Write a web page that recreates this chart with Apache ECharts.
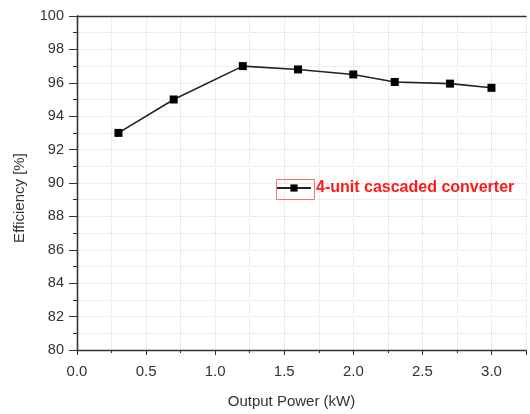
<!DOCTYPE html>
<html><head><meta charset="utf-8">
<script src="https://cdn.jsdelivr.net/npm/echarts@6/dist/echarts.min.js"></script>
<style>html,body{margin:0;padding:0;background:#fff}#c{width:530px;height:414px}</style>
</head><body><div id="c"></div>
<script>
const power = [0.3, 0.7, 1.2, 1.6, 2.0, 2.3, 2.7, 3.0];
const efficiency = [93.0, 95.0, 97.0, 96.8, 96.5, 96.05, 95.95, 95.7];
const seriesName = '4-unit cascaded converter';
const xName = 'Output Power (kW)';
const yName = 'Efficiency [%]';

const chart = echarts.init(document.getElementById('c'));
const font = 'Liberation Sans, Arial, sans-serif';
const grid = {lineStyle: {color: '#dcdcdc', type: 'dotted'}};
chart.setOption({
  animation: false,
  grid: {left: 77, right: 4, top: 16, bottom: 63},
  xAxis: [{
    type: 'value', min: 0, max: 3.25, interval: 0.5,
    name: xName, nameLocation: 'middle', nameGap: 44,
    nameTextStyle: {color: '#333', fontSize: 15, fontFamily: font, padding: [0, 20, 0, 0]},
    axisLine: {show: true, onZero: false, lineStyle: {color: '#333', width: 1.3}},
    axisTick: {show: true, length: 5, lineStyle: {color: '#333'}},
    minorTick: {show: true, splitNumber: 2, length: 3, lineStyle: {color: '#333'}},
    splitLine: Object.assign({show: true}, grid),
    minorSplitLine: Object.assign({show: true}, grid),
    axisLabel: {color: '#333', fontSize: 15, fontFamily: font, margin: 14,
      formatter: v => v.toFixed(1), showMaxLabel: false}
  }, {
    type: 'value', min: 0, max: 3.25, interval: 0.5, position: 'top',
    axisLine: {show: true, lineStyle: {color: '#333', width: 1.3}},
    axisTick: {show: false}, axisLabel: {show: false}, splitLine: {show: false}
  }],
  yAxis: [{
    type: 'value', min: 80, max: 100, interval: 2,
    name: yName, nameLocation: 'middle', nameGap: 50,
    nameTextStyle: {color: '#333', fontSize: 15, fontFamily: font, padding: [0, 30, 0, 0]},
    axisLine: {show: true, onZero: false, lineStyle: {color: '#333', width: 1.3}},
    axisTick: {show: true, length: 8, lineStyle: {color: '#333'}},
    minorTick: {show: true, splitNumber: 2, length: 4, lineStyle: {color: '#333'}},
    splitLine: Object.assign({show: true}, grid),
    minorSplitLine: Object.assign({show: true}, grid),
    axisLabel: {color: '#333', fontSize: 14.5, fontFamily: font, margin: 13}
  }, {
    type: 'value', min: 80, max: 100, interval: 2, position: 'right',
    axisLine: {show: true, lineStyle: {color: '#333', width: 1.3}},
    axisTick: {show: false}, axisLabel: {show: false}, splitLine: {show: false}
  }],
  legend: {
    left: 276, top: 180, padding: 0, itemWidth: 34, itemHeight: 9, itemGap: 4,
    data: [seriesName],
    textStyle: {color: '#ff1a1a', fontWeight: 'bold', fontSize: 16, fontFamily: font}
  },
  graphic: [{
    type: 'rect', left: 274, top: 177, z: 100,
    shape: {width: 38, height: 20},
    style: {fill: 'none', stroke: '#ff7070', lineWidth: 1}
  }],
  series: [{
    name: seriesName, type: 'line',
    data: power.map((p, i) => [p, efficiency[i]]),
    symbol: 'rect', symbolSize: 8,
    itemStyle: {color: '#000'},
    lineStyle: {color: '#222', width: 1.6}
  }]
});
</script></body></html>
